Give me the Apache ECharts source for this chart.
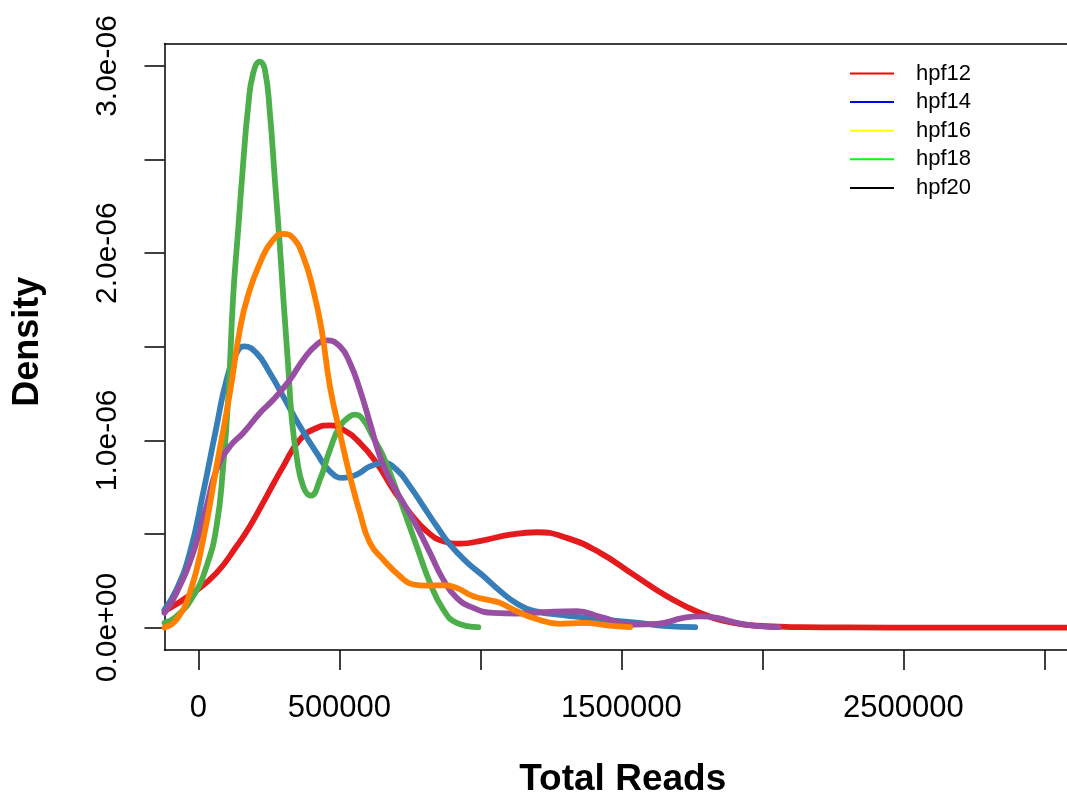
<!DOCTYPE html>
<html>
<head>
<meta charset="utf-8">
<script src="https://cdn.jsdelivr.net/npm/echarts@6/dist/echarts.min.js"></script>
<style>
html,body{margin:0;padding:0;background:#fff;}
#c{width:1067px;height:803px;}
</style>
</head>
<body>
<div id="c"></div>
<script>
// ---- data ----
const seriesNames = ['hpf12', 'hpf14', 'hpf16', 'hpf18', 'hpf20'];

const hpf12X = [-120000, -18500, 64600, 135500, 182700, 242000, 300900, 360100, 419400, 466600, 513800, 573000, 632300, 691200, 750400, 809700, 868600, 927900, 1010500, 1105300, 1200000, 1306500, 1424600, 1542800, 1661300, 1779400, 1897600, 2016100, 2134300, 2300000, 2600000, 3000000, 3200000];
const hpf12Y = [0.087e-6, 0.185e-6, 0.292e-6, 0.434e-6, 0.541e-6, 0.701e-6, 0.861e-6, 1.004e-6, 1.066e-6, 1.080e-6, 1.057e-6, 0.986e-6, 0.879e-6, 0.737e-6, 0.612e-6, 0.514e-6, 0.461e-6, 0.448e-6, 0.466e-6, 0.496e-6, 0.509e-6, 0.479e-6, 0.399e-6, 0.283e-6, 0.167e-6, 0.078e-6, 0.025e-6, 0.007e-6, 0.002e-6, 0.0005e-6, 0, 0, 0];

const hpf14X = [-120000, -77400, -30200, 17000, 64600, 100100, 135500, 162500, 206500, 253700, 300900, 360100, 419400, 466600, 513800, 561300, 608500, 655700, 703300, 750400, 797600, 845200, 892400, 951600, 1010500, 1069800, 1129100, 1187900, 1306500, 1424600, 1542800, 1661300, 1761700];
const hpf14Y = [0.096e-6, 0.203e-6, 0.399e-6, 0.719e-6, 1.075e-6, 1.324e-6, 1.466e-6, 1.502e-6, 1.466e-6, 1.360e-6, 1.235e-6, 1.075e-6, 0.933e-6, 0.834e-6, 0.799e-6, 0.817e-6, 0.861e-6, 0.879e-6, 0.843e-6, 0.754e-6, 0.648e-6, 0.541e-6, 0.443e-6, 0.350e-6, 0.275e-6, 0.195e-6, 0.128e-6, 0.089e-6, 0.064e-6, 0.043e-6, 0.028e-6, 0.007e-6, 0.002e-6];

const hpf16X = [-120000, -77400, -18500, 29100, 64600, 88000, 105700, 123500, 141200, 159000, 176700, 194400, 218200, 236000, 253700, 271400, 289200, 300900, 318600, 330700, 348400, 371900, 399200, 431100, 466600, 502100, 537600, 555300, 584800, 620200, 655700, 715000, 774200, 821400, 868600, 916100, 992800];
const hpf16Y = [0.025e-6, 0.060e-6, 0.167e-6, 0.327e-6, 0.541e-6, 0.861e-6, 1.217e-6, 1.769e-6, 2.125e-6, 2.481e-6, 2.783e-6, 2.961e-6, 3.023e-6, 2.979e-6, 2.748e-6, 2.391e-6, 2.035e-6, 1.769e-6, 1.395e-6, 1.128e-6, 0.914e-6, 0.754e-6, 0.705e-6, 0.790e-6, 0.950e-6, 1.075e-6, 1.128e-6, 1.137e-6, 1.110e-6, 1.014e-6, 0.914e-6, 0.683e-6, 0.434e-6, 0.239e-6, 0.096e-6, 0.025e-6, 0.002e-6];

const hpf18X = [-120000, -77400, -18500, 29100, 64600, 111800, 159000, 218200, 265400, 324700, 371900, 419400, 454900, 502100, 537600, 573000, 608500, 644000, 679500, 726700, 774200, 821400, 868600, 916100, 975000, 1046000, 1129100, 1247200, 1341900, 1424600, 1542800, 1625800, 1720200, 1779400, 1838700, 1921400, 2016100, 2057300];
const hpf18Y = [0.078e-6, 0.185e-6, 0.399e-6, 0.648e-6, 0.843e-6, 0.968e-6, 1.039e-6, 1.146e-6, 1.217e-6, 1.324e-6, 1.431e-6, 1.511e-6, 1.534e-6, 1.502e-6, 1.413e-6, 1.270e-6, 1.093e-6, 0.914e-6, 0.790e-6, 0.666e-6, 0.541e-6, 0.399e-6, 0.256e-6, 0.159e-6, 0.105e-6, 0.078e-6, 0.075e-6, 0.084e-6, 0.087e-6, 0.057e-6, 0.016e-6, 0.020e-6, 0.052e-6, 0.060e-6, 0.052e-6, 0.021e-6, 0.004e-6, 0.002e-6];

const hpf20X = [-120000, -77400, -30200, 17000, 64600, 111800, 147200, 173900, 218200, 265400, 300900, 336400, 371900, 407300, 437100, 466600, 502100, 537600, 573000, 608500, 655700, 715000, 762100, 809700, 868600, 916100, 975000, 1034300, 1069800, 1129100, 1187900, 1282700, 1365400, 1448400, 1531100];
const hpf20Y = [0, 0.043e-6, 0.185e-6, 0.470e-6, 0.861e-6, 1.253e-6, 1.591e-6, 1.762e-6, 1.947e-6, 2.071e-6, 2.103e-6, 2.080e-6, 1.982e-6, 1.804e-6, 1.591e-6, 1.288e-6, 1.039e-6, 0.808e-6, 0.612e-6, 0.452e-6, 0.363e-6, 0.274e-6, 0.230e-6, 0.224e-6, 0.226e-6, 0.212e-6, 0.167e-6, 0.146e-6, 0.132e-6, 0.087e-6, 0.051e-6, 0.020e-6, 0.025e-6, 0.012e-6, 0.002e-6];

const xTicks = [0, 500000, 1000000, 1500000, 2000000, 2500000, 3000000];
const xTickLabels = [0, 500000, 1500000, 2500000];
const yTicks = [0, 0.5e-6, 1.0e-6, 1.5e-6, 2.0e-6, 2.5e-6, 3.0e-6];
const yTickLabelValues = [0, 1.0e-6, 2.0e-6, 3.0e-6];
const yTickLabelText = ['0.0e+00', '1.0e-06', '2.0e-06', '3.0e-06'];

const xTitle = 'Total Reads';
const yTitle = 'Density';

// ---- styling ----
const curveColors = ['#E41A1C', '#377EB8', '#4DAF4A', '#984EA3', '#FF7F00'];
const legendColors = ['#FF0000', '#0000FF', '#FFFF00', '#00FF00', '#000000'];
const FONT = '"Liberation Sans", Arial, Helvetica, sans-serif';
const xsAll = [hpf12X, hpf14X, hpf16X, hpf18X, hpf20X];
const ysAll = [hpf12Y, hpf14Y, hpf16Y, hpf18Y, hpf20Y];

const X_MIN = -120000, X_MAX = 3080000;
const Y_MIN = -0.12e-6, Y_MAX = 3.12e-6;
const axisLineStyle = { color: '#000', width: 1.5 };

const chart = echarts.init(document.getElementById('c'), null, { renderer: 'canvas' });

const series = seriesNames.map((name, i) => ({
  name: name,
  type: 'line',
  data: xsAll[i].map((x, j) => [x, ysAll[i][j]]),
  smooth: 0.5,
  symbol: 'none',
  showSymbol: false,
  clip: true,
  z: 2 + i,
  lineStyle: { color: curveColors[i], width: 5.8, cap: 'round', join: 'round' },
  itemStyle: { color: curveColors[i] },
  emphasis: { disabled: true }
}));

const option = {
  animation: false,
  backgroundColor: '#ffffff',
  textStyle: { fontFamily: FONT },
  grid: { left: 164.5, right: 0, top: 43.5, bottom: 152.5, containLabel: false },
  legend: {
    orient: 'vertical',
    left: 850,
    top: 62.5,
    padding: 0,
    itemWidth: 44,
    itemHeight: 2,
    itemGap: 6.6,
    icon: 'rect',
    selectedMode: false,
    textStyle: { fontSize: 22, lineHeight: 22, color: '#000', fontFamily: FONT, padding: [0, 0, 0, 17] },
    data: seriesNames.map((n, i) => ({
      name: n,
      icon: 'rect',
      itemStyle: { color: legendColors[i], borderWidth: 0 },
      lineStyle: { color: legendColors[i] }
    }))
  },
  xAxis: [
    {
      type: 'value',
      position: 'bottom',
      min: X_MIN,
      max: X_MAX,
      axisLine: { show: true, onZero: false, lineStyle: axisLineStyle },
      axisTick: { show: true, customValues: xTicks, length: 20, inside: false, lineStyle: axisLineStyle },
      axisLabel: {
        show: true,
        customValues: xTickLabels,
        fontSize: 31,
        lineHeight: 31,
        margin: 43,
        color: '#000',
        fontFamily: FONT,
        formatter: v => String(v)
      },
      splitLine: { show: false },
      name: xTitle,
      nameLocation: 'middle',
      nameGap: 111,
      nameTextStyle: { fontSize: 37, lineHeight: 37, fontWeight: 'bold', color: '#000', fontFamily: FONT, padding: [0, 0, 0, 14] }
    },
    {
      type: 'value',
      position: 'top',
      min: X_MIN,
      max: X_MAX,
      axisLine: { show: true, onZero: false, lineStyle: axisLineStyle },
      axisTick: { show: false },
      axisLabel: { show: false },
      splitLine: { show: false }
    }
  ],
  yAxis: {
    type: 'value',
    position: 'left',
    min: Y_MIN,
    max: Y_MAX,
    axisLine: { show: true, onZero: false, lineStyle: axisLineStyle },
    axisTick: { show: true, customValues: yTicks, length: 20, inside: false, lineStyle: axisLineStyle },
    axisLabel: {
      show: true,
      customValues: yTickLabelValues,
      rotate: 90,
      fontSize: 30,
      lineHeight: 30,
      margin: 41.5,
      color: '#000',
      fontFamily: FONT,
      formatter: v => {
        for (let k = 0; k < yTickLabelValues.length; k++) {
          if (Math.abs(v - yTickLabelValues[k]) < 1e-12) return yTickLabelText[k];
        }
        return '';
      }
    },
    splitLine: { show: false },
    name: yTitle,
    nameLocation: 'middle',
    nameGap: 118,
    nameRotate: 90,
    nameTextStyle: { fontSize: 36, lineHeight: 36, fontWeight: 'bold', color: '#000', fontFamily: FONT, padding: [0, 0, 0, 10] }
  },
  series: series
};

chart.setOption(option);
</script>
</body>
</html>
